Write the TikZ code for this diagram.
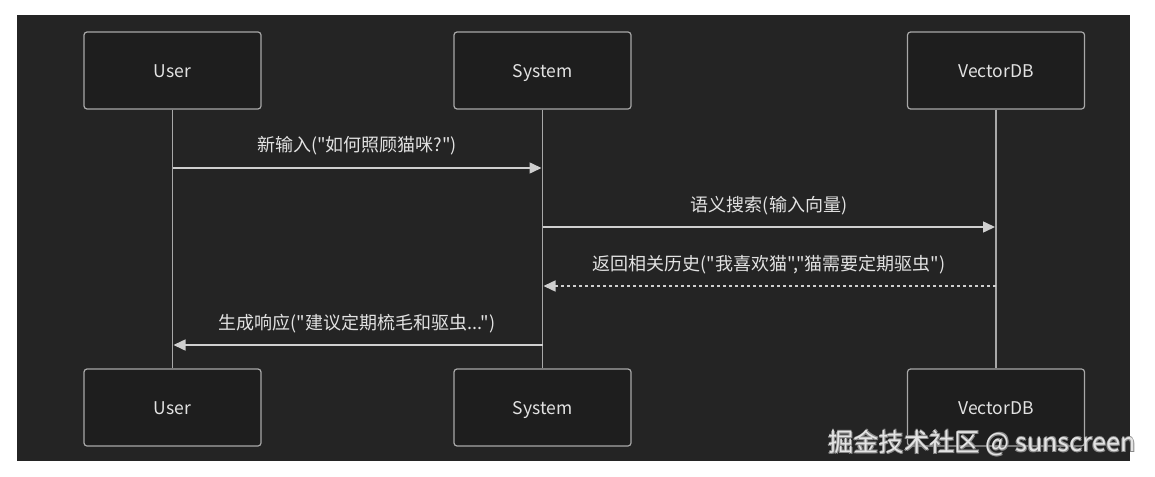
\documentclass[tikz,border=0pt]{standalone}
\usepackage{fontspec}
\setmainfont{Noto Sans CJK SC}[Ligatures=TeXOff]
\usetikzlibrary{arrows.meta}
\definecolor{bgdark}{HTML}{242424}
\definecolor{boxfill}{HTML}{1E1E1E}
\definecolor{boxline}{HTML}{A8A8A8}
\definecolor{linec}{HTML}{CFCFCF}
\definecolor{txt}{HTML}{E2E2E2}
\definecolor{wmtext}{HTML}{E4E4E4}
\definecolor{wmedge}{HTML}{8A8A8A}
\begin{document}
\begin{tikzpicture}[x=1pt,y=-1pt,
  actor/.style={draw=boxline, fill=boxfill, rounded corners=3pt, line width=1.2pt,
    minimum width=177pt, minimum height=77pt, text=txt, inner sep=0pt,
    text height=14pt, text depth=0pt,
    font=\fontsize{17.5}{20}\selectfont},
  life/.style={draw=boxline, line width=1.4pt},
  msg/.style={draw=linec, line width=1.5pt, -{Triangle[length=12pt,width=11pt,fill=linec]}},
  reply/.style={msg, dash pattern=on 3pt off 3pt},
  lbl/.style={text=txt, font=\fontsize{18}{20}\selectfont, inner sep=0pt,
    text height=14pt, text depth=0pt},
  wm/.style={font=\fontsize{25.3}{28}\selectfont, inner sep=0pt}]
\useasboundingbox (0,0) rectangle (1155,476);
\fill[white] (0,0) rectangle (1155,476);
\fill[bgdark] (17,15) rectangle (1130,461);
% actors
\node[actor] (u1) at (172.5,70.5) {User};
\node[actor] (s1) at (542.5,70.5) {System};
\node[actor] (v1) at (996,70.5) {VectorDB};
\node[actor] (u2) at (172.5,407.5) {User};
\node[actor] (s2) at (542.5,407.5) {System};
\node[actor] (v2) at (996,407.5) {VectorDB};
% lifelines
\draw[life] (u1.south) -- (u2.north);
\draw[life] (s1.south) -- (s2.north);
\draw[life] (v1.south) -- (v2.north);
% message anchor points
\coordinate (m1a) at (172.5,168);
\coordinate (m1b) at (541.5,168);
\coordinate (m2a) at (542.5,227);
\coordinate (m2b) at (995,227);
\coordinate (m3a) at (996,286);
\coordinate (m3b) at (543.5,286);
\coordinate (m4a) at (542.5,345);
\coordinate (m4b) at (173.5,345);
% messages
\draw[msg] (m1a) -- (m1b);
\node[lbl] (l1) at (357,144) {新输入("如何照顾猫咪?")};
\draw[msg] (m2a) -- (m2b);
\node[lbl] (l2) at (769,204) {语义搜索(输入向量)};
\draw[reply] (m3a) -- (m3b);
\node[lbl] (l3) at (769,263) {返回相关历史("我喜欢猫","猫需要定期驱虫")};
\draw[msg] (m4a) -- (m4b);
\node[lbl] (l4) at (357,322) {生成响应("建议定期梳毛和驱虫...")};
% watermark
\foreach \dx/\dy in {1/1,0.6/-0.6,-0.6/0.6}
  \node[wm, text=wmedge] at (982+\dx,443+\dy) {掘金技术社区 @ sunscreen};
\node[wm, text=wmtext] (wmt) at (982,443) {掘金技术社区 @ sunscreen};
\end{tikzpicture}
\end{document}
